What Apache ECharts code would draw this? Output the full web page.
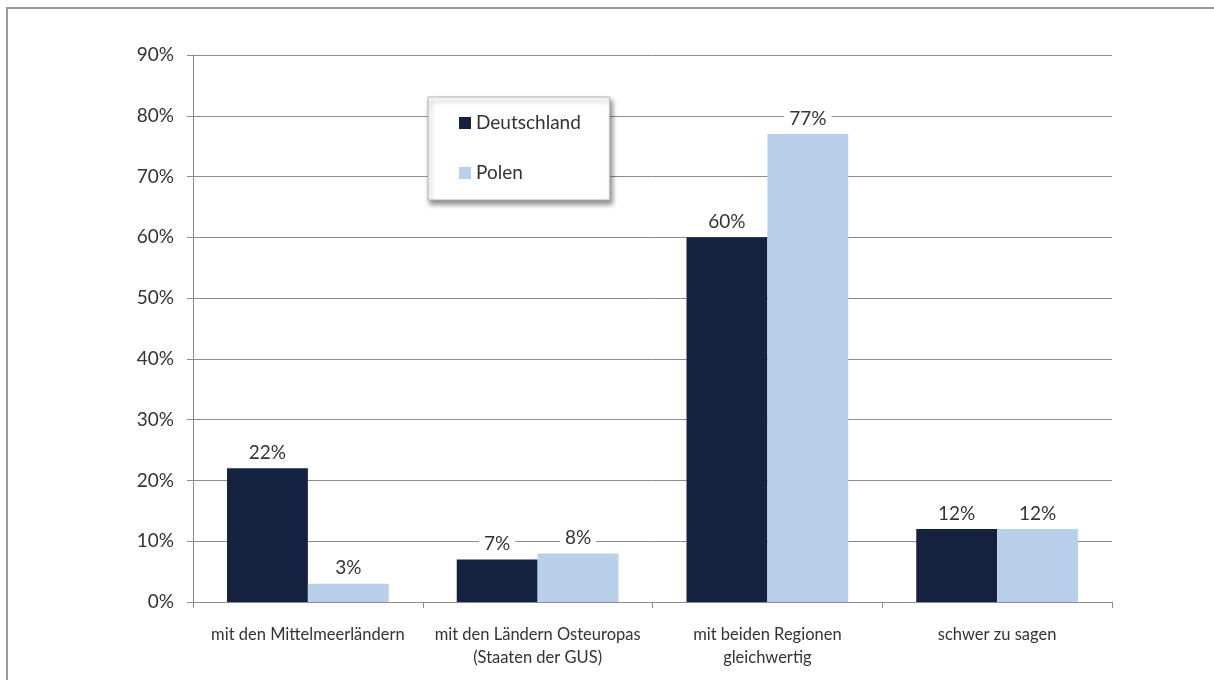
<!DOCTYPE html>
<html>
<head>
<meta charset="utf-8">
<script src="https://cdn.jsdelivr.net/npm/echarts@6/dist/echarts.min.js"></script>
<style>
  html, body { margin: 0; padding: 0; background: #fff; overflow: hidden; }
  #chart { width: 1214px; height: 680px; }
</style>
</head>
<body>
<div id="chart"></div>
<script>
const categories = [
    'mit den Mittelmeerländern',
    'mit den Ländern Osteuropas\n(Staaten der GUS)',
    'mit beiden Regionen\ngleichwertig',
    'schwer zu sagen'
];
const deutschland = [22, 7, 60, 12];
const polen = [3, 8, 77, 12];
const yTicks = [0, 10, 20, 30, 40, 50, 60, 70, 80, 90];

const font = 'Lato, "Open Sans", sans-serif';
const textColor = '#333';

const chart = echarts.init(document.getElementById('chart'));

const labelStyle = {
    show: true,
    position: 'top',
    distance: 6,
    formatter: '{c}%',
    fontFamily: font,
    fontSize: 19,
    color: textColor,
    backgroundColor: '#fff',
    padding: [0, 5]
};

chart.setOption({
    backgroundColor: '#fff',
    textStyle: {fontFamily: font},
    animation: false,
    // outer frame; only its top and left edges fall inside the picture
    graphic: [{
        type: 'rect',
        silent: true,
        z: -10,
        shape: {x: 7, y: 8, width: 2400, height: 2400},
        style: {stroke: '#9a9a9a', lineWidth: 2, fill: null}
    }],
    grid: {left: 193, right: 102, top: 55, bottom: 78},
    legend: {
        orient: 'vertical',
        left: 428,
        top: 97,
        itemWidth: 12,
        itemHeight: 12,
        itemGap: 28,
        padding: [15, 29, 16, 31],
        backgroundColor: '#fff',
        borderColor: '#b0b0b0',
        borderWidth: 1,
        shadowColor: 'rgba(0,0,0,0.45)',
        shadowBlur: 5,
        shadowOffsetX: 2,
        shadowOffsetY: 4,
        icon: 'rect',
        textStyle: {fontFamily: font, fontSize: 19, color: textColor, lineHeight: 22},
        data: ['Deutschland', 'Polen']
    },
    xAxis: {
        type: 'category',
        data: categories,
        axisLine: {lineStyle: {color: '#8c8c8c', width: 1}},
        axisTick: {show: true, length: 6, lineStyle: {color: '#8c8c8c'}},
        axisLabel: {
            fontFamily: font, fontSize: 16.5, color: textColor,
            margin: 21, lineHeight: 23, interval: 0
        }
    },
    yAxis: {
        type: 'value',
        min: yTicks[0],
        max: yTicks[yTicks.length - 1],
        interval: 10,
        axisLine: {show: true, lineStyle: {color: '#8c8c8c', width: 1}},
        axisTick: {show: true, length: 6, lineStyle: {color: '#8c8c8c'}},
        axisLabel: {
            formatter: '{value}%', fontFamily: font, fontSize: 19,
            color: textColor, margin: 19
        },
        splitLine: {lineStyle: {color: '#8c8c8c', width: 1}}
    },
    series: [
        {
            name: 'Deutschland',
            type: 'bar',
            data: deutschland,
            barGap: 0,
            barCategoryGap: '29.6%',
            itemStyle: {color: '#15223f'},
            label: labelStyle,
            z: 3
        },
        {
            name: 'Polen',
            type: 'bar',
            data: polen,
            barGap: 0,
            barCategoryGap: '29.6%',
            itemStyle: {color: '#b9d0ea'},
            label: labelStyle,
            z: 3
        }
    ]
});
</script>
</body>
</html>
